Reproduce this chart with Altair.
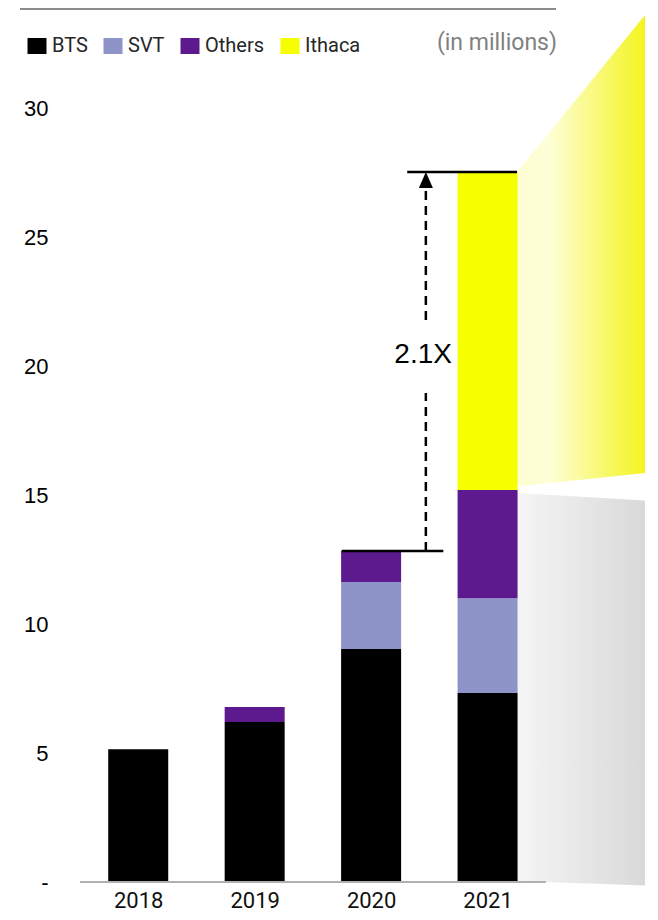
import json
import altair as alt
import pandas as pd

# ---------------- data ----------------
years = ["2018", "2019", "2020", "2021"]
series = ["BTS", "SVT", "Others", "Ithaca"]
colors = ["#000000", "#8e93c8", "#5d1a8e", "#f5ff00"]
bts = [5.15, 6.2, 9.03, 7.33]
svt = [0.0, 0.0, 2.6, 3.67]
others = [0.0, 0.58, 1.2, 4.19]
ithaca = [0.0, 0.0, 0.0, 12.33]
y_ticks = [0, 5, 10, 15, 20, 25, 30]
multiple_label = "2.1X"
unit_label = "(in millions)"

# ---------------- layout constants ----------------
HW = 0.253            # half bar width in category units
X_DOMAIN = [-0.5, 4.352]
Y_DOMAIN = [0, 30]

rows = []
for i, yr in enumerate(years):
    for k, (name, vals) in enumerate(zip(series, [bts, svt, others, ithaca])):
        if vals[i] > 0:
            rows.append({"idx": i, "year": yr, "series": name, "order": k, "value": vals[i]})
df = pd.DataFrame(rows)

tot2020 = bts[2] + svt[2] + others[2] + ithaca[2]
tot2021 = bts[3] + svt[3] + others[3] + ithaca[3]

xs = alt.Scale(domain=X_DOMAIN, nice=False, zero=False)
ys = alt.Scale(domain=Y_DOMAIN, nice=False, zero=False)

year_expr = json.dumps(years) + "[datum.value]"

bars = alt.Chart(df).mark_bar(size=60).encode(
    x=alt.X("idx:Q", scale=xs, axis=alt.Axis(
        values=[0, 1, 2, 3], labelExpr=year_expr, title=None, grid=False,
        domain=False, ticks=False, tickSize=0, labelPadding=8,
        labelFont="Roboto", labelFontSize=22, labelColor="#111111")),
    y=alt.Y("value:Q", stack="zero", scale=ys, axis=alt.Axis(
        values=y_ticks, labelExpr="datum.value == 0 ? '-' : datum.label",
        title=None, grid=False, domain=False, ticks=False, tickSize=0,
        labelPadding=27, labelFont="Liberation Sans", labelFontSize=22,
        labelColor="#000000")),
    color=alt.Color("series:N", scale=alt.Scale(domain=series, range=colors),
                    legend=alt.Legend(
                        orient="none", legendX=-48, legendY=-72, direction="horizontal",
                        title=None, symbolType="M-1,-0.84H1V0.84H-1Z", symbolSize=361,
                        symbolStrokeWidth=0, symbolOpacity=1,
                        labelFont="Roboto", labelFontSize=20,
                        labelColor="#262626", labelOffset=5, columnPadding=15, padding=0)),
    order=alt.Order("order:Q", sort="ascending"),
)

# gradient fans on the right of the 2021 bar
yellow_df = pd.DataFrame({"x": [3 + HW, X_DOMAIN[1]], "top": [tot2021, 33.6], "bot": [15.33, 15.85]})
gray_df = pd.DataFrame({"x": [3 + HW, X_DOMAIN[1]], "top": [15.08, 14.79], "bot": [0.04, -0.14]})

yellow = alt.Chart(yellow_df).mark_area(
    orient="vertical",
    color=alt.Gradient(gradient="linear", x1=0, x2=1, y1=0, y2=0,
                       stops=[alt.GradientStop(color="#fdfdd2", offset=0),
                              alt.GradientStop(color="#fefed8", offset=0.25),
                              alt.GradientStop(color="#f4f41e", offset=1)])
).encode(x=alt.X("x:Q", scale=xs), y=alt.Y("top:Q", scale=ys), y2="bot:Q")

gray = alt.Chart(gray_df).mark_area(
    orient="vertical",
    color=alt.Gradient(gradient="linear", x1=0, x2=1, y1=0, y2=0,
                       stops=[alt.GradientStop(color="#f5f5f5", offset=0),
                              alt.GradientStop(color="#d9d9d9", offset=1)])
).encode(x=alt.X("x:Q", scale=xs), y=alt.Y("top:Q", scale=ys), y2="bot:Q")

baseline_df = pd.DataFrame({"x": [-0.5], "x2": [3.5], "y": [0]})
baseline = alt.Chart(baseline_df).mark_rule(color="#b0b0b0", strokeWidth=2).encode(
    x=alt.X("x:Q", scale=xs), x2="x2:Q", y=alt.Y("y:Q", scale=ys))

# annotation
ARROW_X = 2.47
hlines_df = pd.DataFrame({"x": [2 - HW, 2.31], "x2": [2.62, 3 + HW], "y": [tot2020, tot2021]})
hlines = alt.Chart(hlines_df).mark_rule(color="#000000", strokeWidth=2.5).encode(
    x=alt.X("x:Q", scale=xs), x2="x2:Q", y=alt.Y("y:Q", scale=ys))

dash_df = pd.DataFrame({"x": [ARROW_X, ARROW_X], "y": [tot2020, 21.78], "y2": [18.95, 26.9]})
dashes = alt.Chart(dash_df).mark_rule(color="#000000", strokeWidth=2.5, strokeDash=[9, 6]).encode(
    x=alt.X("x:Q", scale=xs), y=alt.Y("y:Q", scale=ys), y2="y2:Q")

arrow_df = pd.DataFrame({"x": [ARROW_X], "y": [tot2021]})
arrow = alt.Chart(arrow_df).mark_point(
    shape="M0,0L0.875,2L-0.875,2Z", size=256, filled=True, color="#000000", opacity=1, strokeWidth=0
).encode(x=alt.X("x:Q", scale=xs), y=alt.Y("y:Q", scale=ys))

label_df = pd.DataFrame({"x": [2.447], "y": [20.43], "t": [multiple_label]})
label = alt.Chart(label_df).mark_text(
    font="Liberation Sans", fontSize=28, color="#000000", align="center", baseline="middle"
).encode(x=alt.X("x:Q", scale=xs), y=alt.Y("y:Q", scale=ys), text="t:N")

top_rule = alt.Chart(pd.DataFrame({"a": [0]})).mark_rule(color="#8c8c8c", strokeWidth=2).encode(
    x=alt.value(-55), x2=alt.value(481), y=alt.value(-99))

unit = alt.Chart(pd.DataFrame({"t": [unit_label]})).mark_text(
    font="Roboto", fontSize=23, color="#808080", align="right", baseline="middle"
).encode(x=alt.value(482), y=alt.value(-65), text="t:N")

chart = alt.layer(gray, yellow, bars, baseline, hlines, dashes, arrow, label, top_rule, unit).properties(
    width=575, height=774,
    autosize=alt.AutoSizeParams(type="none"),
    padding={"left": 67, "top": 100, "right": 0, "bottom": 30},
).configure_view(stroke=None)

chart.save("out.html", embed_options={"renderer": "svg", "actions": False})
